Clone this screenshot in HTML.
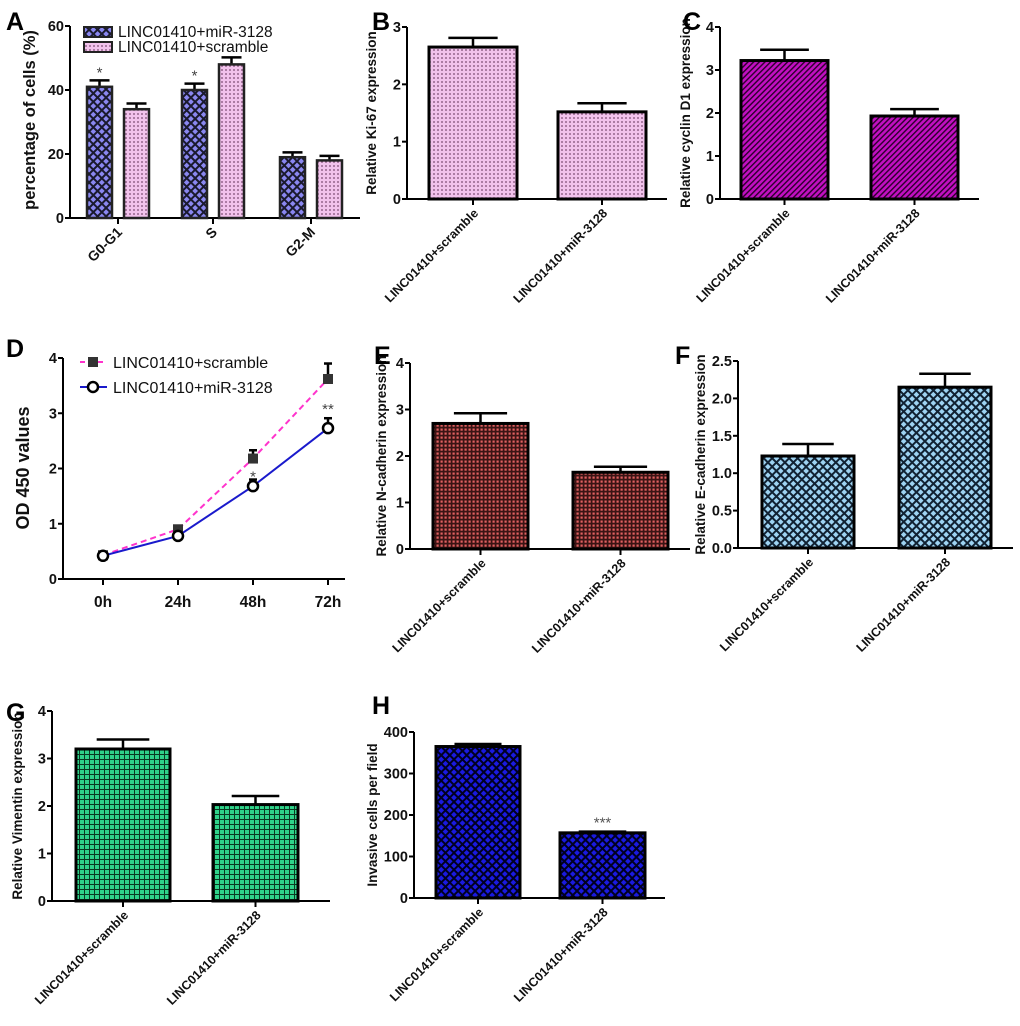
<!DOCTYPE html>
<html><head><meta charset="utf-8">
<style>
html,body{margin:0;padding:0;background:#fff;}
svg{display:block;font-family:"Liberation Sans",Arial,sans-serif;}
.tick{font-size:14.5px;font-weight:bold;fill:#111;}
.cat{font-size:12.5px;font-weight:bold;fill:#111;}
.ttl{font-size:13.5px;font-weight:bold;fill:#111;}
.letter{font-size:25px;font-weight:bold;fill:#000;}
</style></head>
<body>
<svg id="fig" width="1020" height="1026" viewBox="0 0 1020 1026" xmlns="http://www.w3.org/2000/svg">
<defs>
<pattern id="pBlue" width="6" height="6" patternUnits="userSpaceOnUse" patternTransform="rotate(45)"><rect width="6" height="6" fill="#1a1a2e"/><rect x="1" y="1" width="4" height="4" fill="#8a87f0"/></pattern>
<pattern id="pPink" width="4" height="4" patternUnits="userSpaceOnUse"><rect width="4" height="4" fill="#f2c2ec"/><circle cx="2" cy="2" r="0.9" fill="#7a4a70"/></pattern>
<pattern id="pMag" width="4" height="4" patternUnits="userSpaceOnUse" patternTransform="rotate(45)"><rect width="4" height="4" fill="#c20fc2"/><rect width="1.4" height="4" fill="#2a002a"/></pattern>
<pattern id="pRed" width="4" height="4" patternUnits="userSpaceOnUse"><rect width="4" height="4" fill="#3a1414"/><rect x="0.5" y="0.5" width="2.2" height="2.2" fill="#e06060"/></pattern>
<pattern id="pCyan" width="6" height="6" patternUnits="userSpaceOnUse" patternTransform="rotate(45)"><rect width="6" height="6" fill="#112233"/><rect x="1" y="1" width="4" height="4" fill="#9ed3f2"/></pattern>
<pattern id="pGreen" width="5" height="5" patternUnits="userSpaceOnUse"><rect width="5" height="5" fill="#0a3a22"/><rect x="0" y="0" width="4" height="4" fill="#2fd38a"/></pattern>
<pattern id="pNavy" width="6" height="6" patternUnits="userSpaceOnUse" patternTransform="rotate(45)"><rect width="6" height="6" fill="#000022"/><rect x="1" y="1" width="4" height="4" fill="#1a1ae0"/></pattern>
</defs>
<g id="root"></g>
</svg>
<script>
// ---- Panel A data
const aCats = ["G0-G1","S","G2-M"];
const aMir = [41, 40, 19];
const aMirErr = [2, 2, 1.5];
const aScr = [34, 48, 18];
const aScrErr = [1.8, 2.2, 1.4];
const aTicks = [0,20,40,60];
// ---- Panel D data
const dCats = ["0h","24h","48h","72h"];
const dScr = [0.43, 0.9, 2.18, 3.62];
const dScrErr = [0.03, 0.05, 0.15, 0.28];
const dMir = [0.42, 0.78, 1.68, 2.73];
const dMirErr = [0.03, 0.04, 0.12, 0.18];
const dTicks = [0,1,2,3,4];
// ---- Two-bar panels
const twoCats = ["LINC01410+scramble","LINC01410+miR-3128"];
const bVals = [2.65, 1.52]; const bErr = [0.16, 0.15]; const bTicks = [0,1,2,3];
const cVals = [3.22, 1.93]; const cErr = [0.25, 0.16]; const cTicks = [0,1,2,3,4];
const eVals = [2.7, 1.65]; const eErr = [0.22, 0.12]; const eTicks = [0,1,2,3,4];
const fVals = [1.23, 2.15]; const fErr = [0.16, 0.18]; const fTicks = ["0.0","0.5","1.0","1.5","2.0","2.5"];
const gVals = [3.2, 2.03]; const gErr = [0.2, 0.18]; const gTicks = [0,1,2,3,4];
const hVals = [365, 157]; const hErr = [6, 3]; const hTicks = [0,100,200,300,400];

const NS="http://www.w3.org/2000/svg";
const root=document.getElementById('root');
function mk(tag,attrs,parent){const e=document.createElementNS(NS,tag);for(const k in attrs)e.setAttribute(k,attrs[k]);(parent||root).appendChild(e);return e;}
function txt(s,attrs,parent){const e=mk('text',attrs,parent);e.textContent=s;return e;}

function axesY(g,ax,y0,yTop,xEnd,ticks,max){
  const yAxis=mk('line',{x1:ax,y1:y0,x2:ax,y2:yTop,stroke:'#000','stroke-width':2},g);
  
  
  const xAxis=mk('line',{x1:ax-1,y1:y0,x2:xEnd,y2:y0,stroke:'#000','stroke-width':2},g);
  
  
  ticks.forEach(t=>{
    const v=parseFloat(t); const y=y0-(y0-yTop)*v/max;
    mk('line',{x1:ax-5,y1:y,x2:ax,y2:y,stroke:'#000','stroke-width':2},g);
    const l=txt(String(t),{x:ax-6,y:y+5,'text-anchor':'end',class:'tick'},g);
    
    
  });
}
function errBar(g,cx,yTopVal,yErr,hw){
  mk('line',{x1:cx,y1:yTopVal,x2:cx,y2:yErr,stroke:'#000','stroke-width':2.5},g);
  mk('line',{x1:cx-hw,y1:yErr,x2:cx+hw,y2:yErr,stroke:'#000','stroke-width':2.5},g);
}

function twoBar(cfg){
  const g=mk('g',{});
  
  
  const max=parseFloat(cfg.ticks[cfg.ticks.length-1]);
  const sy=v=>cfg.y0-(cfg.y0-cfg.yTop)*v/max;
  axesY(g,cfg.ax,cfg.y0,cfg.yTop,cfg.xEnd,cfg.ticks,max);
  cfg.vals.forEach((v,i)=>{
    const [x1,x2]=cfg.bars[i]; const cx=(x1+x2)/2;
    errBar(g,cx,sy(v),sy(v+cfg.err[i]),(x2-x1)*0.28);
    const r=mk('rect',{x:x1,y:sy(v),width:x2-x1,height:cfg.y0-sy(v),fill:'url(#'+cfg.pat+')',stroke:'#000','stroke-width':3},g);
    
    
    mk('line',{x1:cx,y1:cfg.y0,x2:cx,y2:cfg.y0+6,stroke:'#000','stroke-width':2},g);
    const l=txt(twoCats[i],{x:0,y:0,'text-anchor':'end',class:'cat',transform:`translate(${cx+6},${cfg.y0+15}) rotate(-45)`},g);
    
    
    if(cfg.star && cfg.star[i]){const s=txt(cfg.star[i],{x:cx,y:sy(v+cfg.err[i])-4,'text-anchor':'middle',style:'font-size:15px;fill:#555'},g);
      
      }
  });
  const t=txt(cfg.title,{x:0,y:0,'text-anchor':'middle',class:'ttl',transform:`translate(${cfg.tx},${(cfg.y0+cfg.yTop)/2}) rotate(-90)`},g);
  
  
}

twoBar({name:'panel-b',ax:407,y0:199,yTop:27,xEnd:667,ticks:bTicks,vals:bVals,err:bErr,bars:[[429,517],[558,646]],pat:'pPink',title:'Relative Ki-67 expression',tx:376});
twoBar({name:'panel-c',ax:720,y0:199,yTop:27,xEnd:979,ticks:cTicks,vals:cVals,err:cErr,bars:[[741,828],[871,958]],pat:'pMag',title:'Relative cyclin D1 expression',tx:690});
twoBar({name:'panel-e',ax:410,y0:549,yTop:363,xEnd:690,ticks:eTicks,vals:eVals,err:eErr,bars:[[433,528],[573,668]],pat:'pRed',title:'Relative N-cadherin expression',tx:386});
twoBar({name:'panel-f',ax:738,y0:548,yTop:361,xEnd:1013,ticks:fTicks,vals:fVals,err:fErr,bars:[[762,854],[899,991]],pat:'pCyan',title:'Relative E-cadherin expression',tx:705});
twoBar({name:'panel-g',ax:52,y0:901,yTop:711,xEnd:330,ticks:gTicks,vals:gVals,err:gErr,bars:[[76,170],[213,298]],pat:'pGreen',title:'Relative Vimentin expression',tx:22});
twoBar({name:'panel-h',ax:414,y0:898,yTop:732,xEnd:665,ticks:hTicks,vals:hVals,err:hErr,bars:[[436,520],[560,645]],pat:'pNavy',title:'Invasive cells per field',tx:377,star:[null,'***']});

// ---- Panel A
(function(){
  const g=mk('g',{});
  
  
  const ax=70,y0=218,yTop=26,max=60;
  const sy=v=>y0-(y0-yTop)*v/max;
  axesY(g,ax,y0,yTop,360,aTicks,max);
  const ticksX=[118,213,311];
  const bw=25;
  aCats.forEach((c,i)=>{
    const cx=ticksX[i];
    const xs=[cx-31,cx+6];
    [[aMir,aMirErr,'pBlue','bar-mir-3128'],[aScr,aScrErr,'pPink','bar-scramble']].forEach((s,j)=>{
      const v=s[0][i],x=xs[j];
      errBar(g,x+bw/2,sy(v),sy(v+s[1][i]),bw*0.4);
      const r=mk('rect',{x:x,y:sy(v),width:bw,height:y0-sy(v),fill:'url(#'+s[2]+')',stroke:'#222','stroke-width':2.5},g);
      
      
    });
    mk('line',{x1:cx,y1:y0,x2:cx,y2:y0+6,stroke:'#000','stroke-width':2},g);
    const l=txt(c,{x:0,y:0,'text-anchor':'end',class:'cat',style:'font-size:14px',transform:`translate(${cx+5},${y0+15}) rotate(-45)`},g);
    
    
    if(i<2){const s=txt('*',{x:xs[0]+bw/2,y:sy(aMir[i]+aMirErr[i])-3,'text-anchor':'middle',style:'font-size:15px;fill:#444'},g);
      
      }
  });
  const t=txt('percentage of cells (%)',{x:0,y:0,'text-anchor':'middle',class:'ttl',style:'font-size:16.5px',transform:`translate(35,120) rotate(-90)`},g);
  
  
  const lg=mk('g',{},g);
  
  
  mk('rect',{x:84,y:27,width:28,height:10,fill:'url(#pBlue)',stroke:'#222','stroke-width':2},lg);
  txt('LINC01410+miR-3128',{x:118,y:37,style:'font-size:15.5px;fill:#111'},lg);
  mk('rect',{x:84,y:42,width:28,height:10,fill:'url(#pPink)',stroke:'#222','stroke-width':2},lg);
  txt('LINC01410+scramble',{x:118,y:52,style:'font-size:15.5px;fill:#111'},lg);
})();

// ---- Panel D
(function(){
  const g=mk('g',{});
  
  
  const ax=63,y0=579,yTop=358,max=4;
  const sy=v=>y0-(y0-yTop)*v/max;
  const sx=i=>103+i*75;
  axesY(g,ax,y0,yTop,345,dTicks,max);
  dCats.forEach((c,i)=>{
    mk('line',{x1:sx(i),y1:y0,x2:sx(i),y2:y0+6,stroke:'#000','stroke-width':2},g);
    const l=txt(c,{x:sx(i),y:y0+28,'text-anchor':'middle',class:'tick',style:'font-size:15.5px'},g);
    
    
  });
  const p1=mk('polyline',{points:dScr.map((v,i)=>sx(i)+','+sy(v)).join(' '),fill:'none',stroke:'#ff33cc','stroke-width':2,'stroke-dasharray':'6,4'},g);
  
  
  const p2=mk('polyline',{points:dMir.map((v,i)=>sx(i)+','+sy(v)).join(' '),fill:'none',stroke:'#1a1acc','stroke-width':2},g);
  
  
  dScr.forEach((v,i)=>{
    errBar(g,sx(i),sy(v),sy(v+dScrErr[i]),4);
    const m=mk('rect',{x:sx(i)-5,y:sy(v)-5,width:10,height:10,fill:'#333'},g);
    
    
  });
  dMir.forEach((v,i)=>{
    errBar(g,sx(i),sy(v),sy(v+dMirErr[i]),4);
    const m=mk('circle',{cx:sx(i),cy:sy(v),r:5,fill:'#fff',stroke:'#000','stroke-width':2.5},g);
    
    
  });
  const s1=txt('*',{x:sx(2),y:sy(dMir[2]+dMirErr[2])+2,'text-anchor':'middle',style:'font-size:15px;fill:#444'},g);
  
  
  const s2=txt('**',{x:sx(3),y:sy(dMir[3]+dMirErr[3])-4,'text-anchor':'middle',style:'font-size:15px;fill:#444'},g);
  
  
  const t=txt('OD 450 values',{x:0,y:0,'text-anchor':'middle',class:'ttl',style:'font-size:18px',transform:`translate(29,468) rotate(-90)`},g);
  
  
  const lg=mk('g',{},g);
  
  
  mk('line',{x1:80,y1:362,x2:107,y2:362,stroke:'#ff33cc','stroke-width':2,'stroke-dasharray':'5,4'},lg);
  mk('rect',{x:88,y:357,width:10,height:10,fill:'#333'},lg);
  txt('LINC01410+scramble',{x:113,y:368,style:'font-size:16px;fill:#111'},lg);
  mk('line',{x1:80,y1:387,x2:107,y2:387,stroke:'#1a1acc','stroke-width':2},lg);
  mk('circle',{cx:93,cy:387,r:5,fill:'#fff',stroke:'#000','stroke-width':2.5},lg);
  txt('LINC01410+miR-3128',{x:113,y:393,style:'font-size:16px;fill:#111'},lg);
})();

// ---- Panel letters
[['A',6,28],['B',372,28],['C',683,28],['D',6,355],['E',374,362],['F',675,362],['G',6,719],['H',372,712]].forEach(p=>{
  const l=txt(p[0],{x:p[1],y:p[2]+2,class:'letter'});
  
  
});
</script>
</body></html>
